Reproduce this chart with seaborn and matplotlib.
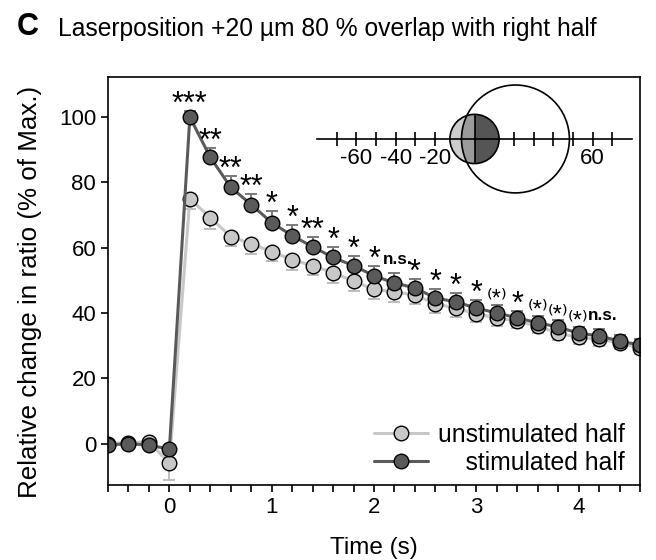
import numpy as np
import pandas as pd
import seaborn as sns
import matplotlib.pyplot as plt
from matplotlib.patches import Circle, Wedge
from matplotlib.ticker import MultipleLocator

# ---- donnees ----
time = [-0.6, -0.4, -0.2, 0.0, 0.2, 0.4, 0.6, 0.8, 1.0, 1.2, 1.4, 1.6, 1.8,
        2.0, 2.2, 2.4, 2.6, 2.8, 3.0, 3.2, 3.4, 3.6, 3.8, 4.0, 4.2, 4.4, 4.6]

stim = [-0.5, 0.0, -0.5, -1.7, 100.0, 87.7, 78.5, 73.2, 67.7, 63.7, 60.3, 57.0, 54.5,
        51.4, 49.2, 47.7, 44.6, 43.4, 41.5, 40.0, 38.5, 37.0, 35.7, 33.8, 33.0, 31.4, 30.2]
stim_err = [0.8, 0.8, 0.8, 0.8, 2.0, 2.8, 3.4, 3.4, 3.6, 3.4, 3.0, 3.2, 3.0,
            3.0, 3.0, 2.8, 2.8, 2.8, 2.5, 2.4, 2.2, 2.2, 2.0, 2.0, 2.0, 1.8, 1.8]

unstim = [0.0, 0.3, 0.5, -6.0, 75.0, 69.2, 63.4, 61.2, 58.8, 56.3, 54.5, 52.3, 49.8,
          47.2, 46.5, 45.5, 42.8, 41.5, 39.7, 38.5, 37.5, 36.0, 33.8, 32.5, 32.0, 30.8, 29.3]
unstim_err = [0.8, 0.8, 0.8, 5.3, 3.0, 3.4, 3.0, 3.0, 3.0, 3.0, 3.0, 3.0, 3.0,
              3.0, 3.0, 2.8, 2.8, 2.6, 2.5, 2.4, 2.2, 2.2, 2.0, 2.0, 2.0, 1.8, 1.8]

signif = ["", "", "", "", "***", "**", "**", "**", "*", "*", "**", "*", "*",
          "*", "n.s.", "*", "*", "*", "*", "(*)", "*", "(*)", "(*)", "(*)", "n.s.", "", ""]

halves = ["unstimulated half", "stimulated half"]
colors = ["#c8c8c8", "#5a5a5a"]
err_colors = ["#bdbdbd", "#7a7a7a"]

y_ticks = [0, 20, 40, 60, 80, 100]

# schema en encart (position du laser, en um)
inset_ticks = [-70, -60, -50, -40, -30, -20, -10, 0, 10, 20, 30, 40, 50, 60, 70]
inset_labels = {-60: "-60", -40: "-40", -20: "-20", 60: "60"}
laser_pos = 20.8
laser_radius = 27.4
cell_radius = 12.5

# ---- style ----
sns.set_theme(style="ticks")
plt.rcParams["font.family"] = ["Liberation Sans", "DejaVu Sans"]
plt.rcParams["axes.edgecolor"] = "black"
plt.rcParams["axes.labelcolor"] = "black"
plt.rcParams["text.color"] = "black"
plt.rcParams["xtick.color"] = "black"
plt.rcParams["ytick.color"] = "black"

df = pd.DataFrame({
    "time": time + time,
    "value": unstim + stim,
    "half": [halves[0]] * len(time) + [halves[1]] * len(time),
})

fig = plt.figure(figsize=(6.56, 5.6), dpi=100)
ax = fig.add_axes([108 / 656, 1 - 485 / 560, 532 / 656, 408 / 560])

zeros = [0] * len(time)
# barres d'erreur : vers le bas pour la moitie non stimulee, vers le haut pour la stimulee
ax.errorbar(time, unstim, yerr=[unstim_err, zeros], fmt="none", ecolor=err_colors[0],
            elinewidth=1.4, capsize=4, capthick=1.4, zorder=1.5)
ax.errorbar(time, stim, yerr=[zeros, stim_err], fmt="none", ecolor=err_colors[1],
            elinewidth=1.4, capsize=4, capthick=1.4, zorder=1.5)

n_before = len(ax.lines)
sns.lineplot(data=df, x="time", y="value", hue="half", palette=colors, marker="o",
             markersize=10.5, markeredgecolor="black", markeredgewidth=1.0,
             linewidth=2.2, legend=False, errorbar=None, ax=ax)
handles = ax.lines[n_before:n_before + 2]

# etoiles de significativite
for t, v, e, s in zip(time, stim, stim_err, signif):
    if s == "":
        continue
    if s == "n.s.":
        ax.annotate(s, (t, v + e), xytext=(2.5, 6.5), textcoords="offset points",
                    ha="center", va="baseline", fontsize=12.3, fontweight="bold")
    elif s == "(*)":
        # etoile entre petites parentheses (parentheses en exposant)
        ax.annotate("\u207d*\u207e", (t, v + e), xytext=(0, -0.5), textcoords="offset points",
                    ha="center", va="baseline", fontsize=17)
    else:
        ax.annotate(s, (t, v + e), xytext=(0, -1.5), textcoords="offset points",
                    ha="center", va="baseline", fontsize=22)

ax.set_xlim(-0.6, 4.6)
ax.set_ylim(-12.7, 112.3)
ax.set_yticks(y_ticks)
ax.xaxis.set_major_locator(MultipleLocator(1))
ax.xaxis.set_minor_locator(MultipleLocator(0.2))
ax.tick_params(which="both", direction="out", length=5, width=1.2, labelsize=16)
for sp in ax.spines.values():
    sp.set_linewidth(1.2)
    sp.set_visible(True)

ax.set_xlabel("Time (s)", fontsize=17.5, labelpad=14)
ax.set_ylabel("Relative change in ratio (% of Max.)", fontsize=18.7)
ax.yaxis.set_label_coords(-0.124, 0.473)

leg = ax.legend(handles, [halves[0], "    " + halves[1]], loc="lower right",
                bbox_to_anchor=(0.972, 0.025), frameon=False, fontsize=17.8,
                handlelength=2.2, handletextpad=0.4, labelspacing=0.17,
                borderaxespad=0, borderpad=0)

# ---- encart : position du laser par rapport a la cellule ----
axi = fig.add_axes([317 / 656, 1 - 200 / 560, 315 / 656, 120 / 560])
axi.set_facecolor("none")
axi.set_xlim(-80, 80)
axi.set_ylim(-31, 29.95)
for side in ["top", "left", "right"]:
    axi.spines[side].set_visible(False)
axi.spines["bottom"].set_position(("data", 0))
axi.spines["bottom"].set_linewidth(1.2)
axi.set_yticks([])
axi.set_xticks(inset_ticks, labels=[inset_labels.get(t, "") for t in inset_ticks])
axi.tick_params(axis="x", direction="inout", length=10, width=1.2, pad=1.5, labelsize=16)

spot_clip = Circle((laser_pos, 0), laser_radius, transform=axi.transData)
axi.add_patch(Wedge((0, 0), cell_radius, 90, 270, facecolor="#cdcdcd", edgecolor="none"))
overlap = Wedge((0, 0), cell_radius, 90, 270, facecolor="#9b9b9b", edgecolor="none")
axi.add_patch(overlap)
overlap.set_clip_path(spot_clip)
axi.add_patch(Wedge((0, 0), cell_radius, -90, 90, facecolor="#555555", edgecolor="none"))
axi.add_patch(Circle((0, 0), cell_radius, fill=False, edgecolor="black", linewidth=1.2))
axi.vlines(0, -cell_radius, cell_radius, color="black", linewidth=1.2)
axi.add_patch(Circle((laser_pos, 0), laser_radius, fill=False, edgecolor="black", linewidth=1.2))

# ---- titre ----
fig.text(17 / 656, 1 - 35 / 560, "C", fontsize=22, fontweight="bold", va="baseline")
fig.text(58 / 656, 1 - 36 / 560, "Laserposition +20 µm 80 % overlap with right half",
         fontsize=17.7, va="baseline")

fig.savefig("out.png", dpi=100)
